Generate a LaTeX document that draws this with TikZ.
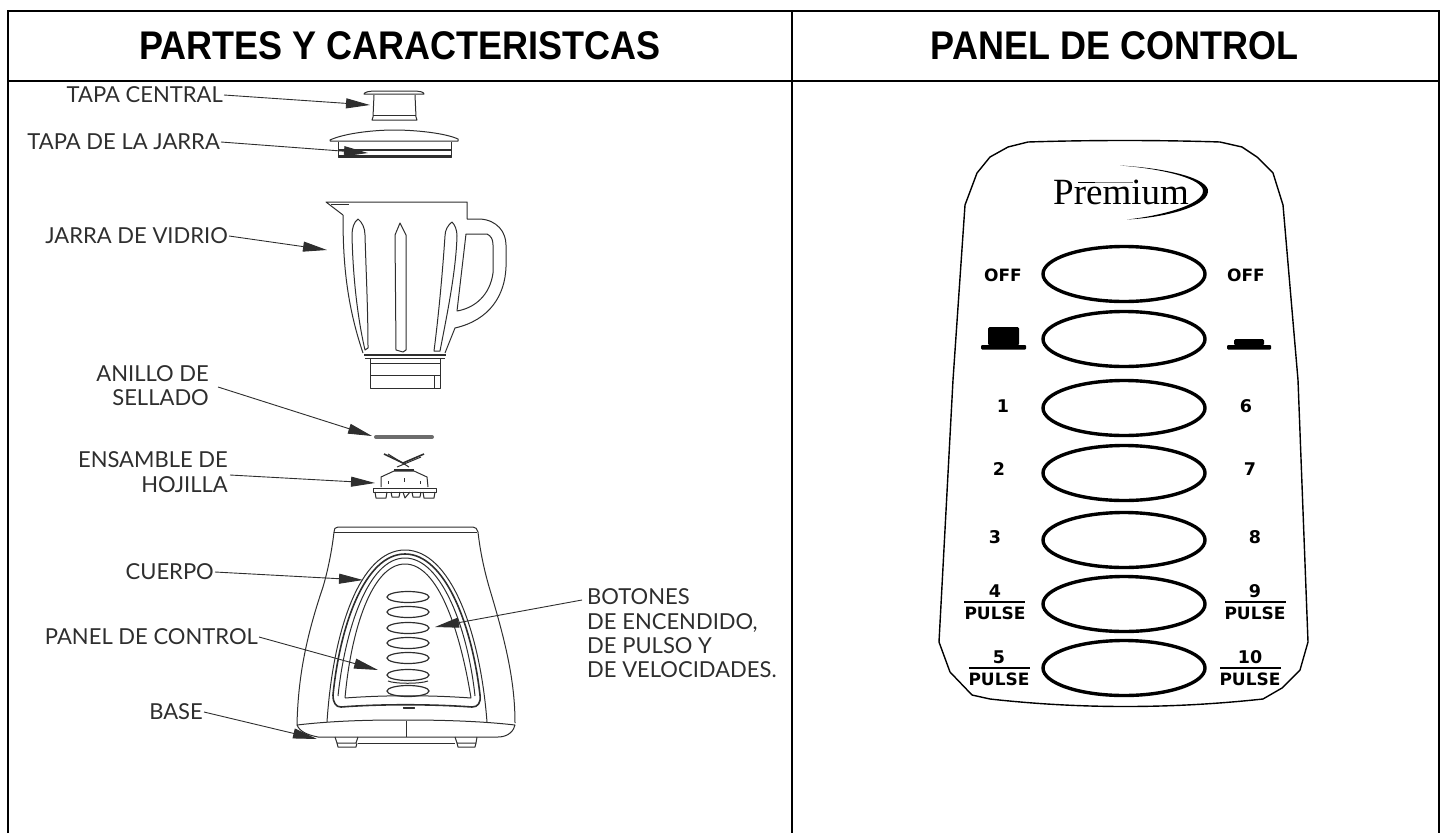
\documentclass[tikz,border=0pt]{standalone}
\usepackage{fontspec}
\setmainfont{Liberation Sans}
\newfontfamily\lblfont{Lato}
\newfontfamily\panfont{DejaVu Sans}
\newfontfamily\premfont{Liberation Serif}
\newfontfamily\headfont[FakeStretch=0.9]{Liberation Sans Bold}
\usetikzlibrary{arrows.meta,shapes.geometric}
\definecolor{ink}{gray}{0.18}
\tikzset{
 frameline/.style={line width=2pt,black},
 headtxt/.style={font=\headfont\fontsize{40}{44}\selectfont,inner sep=0pt,anchor=center},
 lbl/.style={font=\lblfont\fontsize{22}{24}\selectfont,text=ink,inner sep=1pt,align=right},
 lead/.style={line width=0.9pt,ink,-{Triangle[length=24pt,width=10pt]}},
 art/.style={line width=1pt,ink,line join=round},
 artb/.style={line width=1.6pt,ink,line join=round},
 bigoval/.style={draw,ellipse,line width=3.4pt,black,minimum width=162pt,minimum height=55pt,inner sep=0pt},
 smalloval/.style={draw=ink,line width=1.2pt},
 pan/.style={font=\panfont\bfseries\fontsize{17}{19}\selectfont,inner sep=0pt},
 num/.style={font=\panfont\bfseries\fontsize{17.5}{20}\selectfont,inner sep=0pt},
 bar/.style={line width=1.1pt,black}
}
\begin{document}
\begin{tikzpicture}[x=1pt,y=-1pt]
\useasboundingbox (0,0) rectangle (1443,833);
% frame
\draw[frameline] (8,833) -- (8,11) -- (1439,11) -- (1439,833);
\draw[frameline] (8,81) -- (1439,81);
\draw[frameline] (792,11) -- (792,833);
\node[headtxt] (h1) at (400,46) {PARTES Y CARACTERISTCAS};
\node[headtxt] (h2) at (1114.5,46) {PANEL DE CONTROL};

% tapa central
\draw[art] (364,94) .. controls (364,92) and (370,91) .. (376,91) -- (412,91) .. controls (420,91) and (424,92) .. (424,94) -- cycle;
\draw[art] (374,95) -- (373,117) -- (372,120) -- (417,120) -- (416,117) -- (415,95);
\draw[art] (373,115) -- (416,115);
% tapa jarra
\draw[art] (330,140) .. controls (345,133) and (375,130) .. (394,130) .. controls (415,130) and (445,133) .. (458,139) -- (458,141) -- (330,141) -- cycle;
\draw[art] (338,142) -- (338,157) -- (451,157) -- (451,142);
\draw[artb] (338,150) -- (451,150);
\draw[artb] (338,156) -- (451,156);
% jarra
\draw[art] (343,215) -- (326,202) -- (467,202) -- (467,219) -- (480,219)
 .. controls (497,220) and (506,232) .. (506,245) -- (506,267)
 .. controls (505,295) and (490,320) .. (455,328) -- (445,353);
\draw[art] (343,215) .. controls (343,255) and (345,300) .. (363,353);
\draw[art] (331,204) -- (349,204);
\draw[art] (466,234) -- (487,234) .. controls (491,236) and (493,239) .. (493,245) -- (493,273)
 .. controls (490,295) and (475,308) .. (457,311) -- cycle;
\draw[art] (358,219) .. controls (354,222) and (352,228) .. (352,235) .. controls (353,280) and (358,320) .. (365,350) -- (368,348)
 .. controls (368,310) and (366,270) .. (365,235) .. controls (365,228) and (362,222) .. (358,219) -- cycle;
\draw[art] (400,223) -- (395,235) -- (396,350) -- (403,352) -- (406,350) -- (406,235) -- cycle;
\draw[art] (452,222) .. controls (448,225) and (445,230) .. (445,236) .. controls (442,280) and (438,320) .. (434,351) -- (440,351)
 .. controls (448,310) and (456,270) .. (457,236) .. controls (457,230) and (455,225) .. (452,222) -- cycle;
\draw[artb] (364,355) -- (446,355);
\draw[art] (365,358) -- (445,358);
\draw[art] (370,358) -- (370,388) -- (440,388) -- (440,358);
\draw[art] (370,363) -- (440,363);
\draw[art] (371,375) -- (440,375);
\draw[art] (434,375) -- (434,388);
% anillo
\draw[line width=4pt,gray!85!black,line cap=round] (376,437) -- (432,437);
% hojilla
\draw[artb] (384,454) -- (403,463) -- (424,454);
\draw[art] (388,454) -- (409,467);
\draw[art] (421,457) -- (397,467);
\draw[artb] (394,470) -- (414,470);
\draw[art] (381,487) -- (381,477) -- (394,471) -- (414,471) -- (427,477) -- (428,487);
\draw[art] (373,488) rectangle (436,492);
\draw[art] (375,492) -- (376,498) -- (386,498) -- (387,492);
\draw[art] (391,492) -- (392,497) -- (399,497) -- (400,492);
\draw[art] (403,492) -- (405,498) -- (410,492);
\draw[art] (412,492) -- (413,497) -- (420,497) -- (421,492);
\draw[art] (423,492) -- (424,498) -- (434,498) -- (435,492);
\draw[art] (388,481) -- (388,484);
\draw[art] (404,478) -- (404,482);
\draw[art] (420,481) -- (420,484);
% cuerpo
\draw[art] (297,725) .. controls (298,680) and (305,640) .. (323,587) .. controls (328,570) and (332,550) .. (334,532)
 .. controls (334,529) and (335,527) .. (338,527) -- (473,527) .. controls (476,527) and (477,529) .. (478,532)
 .. controls (480,550) and (484,570) .. (490,590) .. controls (505,640) and (515,680) .. (515,723);
\draw[art] (334,532) -- (477,532);
\draw[art] (297,725) .. controls (340,720) and (380,720) .. (406,720) .. controls (440,720) and (480,721) .. (515,725)
 .. controls (514,730) and (509,737) .. (498,737) -- (318,737) .. controls (308,735) and (300,732) .. (297,725);
\draw[art] (406,721) -- (406,737);
\draw[art] (335,737) -- (337,743) -- (356,743) -- (358,737);
\draw[art] (337,743) -- (338,747) -- (356,747) -- (357,743);
\draw[art] (455,737) -- (457,743) -- (476,743) -- (477,737);
\draw[art] (457,743) -- (458,747) -- (475,747) -- (476,743);
\draw[art] (358,743) -- (455,743);
\draw[art] (327,722) .. controls (333,630) and (360,550) .. (405,550) .. controls (450,550) and (480,630) .. (487,722);
\draw[artb] (333,695) .. controls (340,625) and (365,554) .. (405,554) .. controls (445,554) and (472,625) .. (480,695)
 .. controls (481,703) and (478,707) .. (472,707) .. controls (430,704) and (380,704) .. (341,707) .. controls (336,707) and (333,703) .. (333,695) -- cycle;
\draw[art] (338,696) .. controls (345,630) and (368,558) .. (405,558) .. controls (442,558) and (468,630) .. (475,696);
\draw[art] (345,698) .. controls (351,630) and (372,564) .. (405,564) .. controls (438,564) and (460,630) .. (471,698) .. controls (430,695) and (385,695) .. (345,698);
\draw[art] (403,707) rectangle (414,708);
\foreach \yy in {597,612,628,643,658,675,691}{\draw[smalloval] (408,\yy) ellipse [x radius=21,y radius=5.5];}
\draw[art] (388,681) .. controls (395,684) and (420,684) .. (428,681);

% labels
\node[lbl,anchor=east] (ltc) at (224,95) {TAPA CENTRAL};
\node[lbl,anchor=east] (ltj) at (221,142) {TAPA DE LA JARRA};
\node[lbl,anchor=east] (ljv) at (229,236) {JARRA DE VIDRIO};
\node[lbl,anchor=east] (las) at (210,385.5) {ANILLO DE\\[0.3pt]SELLADO};
\node[lbl,anchor=east] (lhj) at (229,472) {ENSAMBLE DE\\[0.3pt]HOJILLA};
\node[lbl,anchor=east] (lcu) at (215,572) {CUERPO};
\node[lbl,anchor=east] (lpc) at (259,637) {PANEL DE CONTROL};
\node[lbl,anchor=east] (lba) at (204,712) {BASE};
\node[lbl,anchor=west,align=left] (lbo) at (586,633.5) {BOTONES\\[0.3pt]DE ENCENDIDO,\\[0.3pt]DE PULSO Y\\[0.3pt]DE VELOCIDADES.};

\coordinate (tc) at (370,105);
\coordinate (tj) at (368,153);
\coordinate (jv) at (327,250);
\coordinate (as) at (372,436);
\coordinate (hj) at (375,483);
\coordinate (cu) at (363,580);
\coordinate (pc) at (378,670);
\coordinate (ba) at (317,739);
\coordinate (bo) at (435,627);
\coordinate (bos) at (582,600);
\coordinate (ass) at (218,387);
\coordinate (hjs) at (230,475);
\draw[lead] (ltc.east) -- (tc);
\draw[lead] (ltj.east) -- (tj);
\draw[lead] (ljv.east) -- (jv);
\draw[lead] (ass) -- (as);
\draw[lead] (hjs) -- (hj);
\draw[lead] (lcu.east) -- (cu);
\draw[lead] (lpc.east) -- (pc);
\draw[lead] (lba.east) -- (ba);
\draw[lead] (bos) -- (bo);

% panel de control
\draw[line width=1.4pt,black,line join=round] (1028,142) .. controls (1090,140) and (1160,140) .. (1220,142)
 -- (1242,147) -- (1257,157) -- (1273,173) -- (1283,205) -- (1298,380) -- (1308,642) -- (1300,670) -- (1282,688) -- (1263,699)
 .. controls (1170,709) and (1080,709) .. (990,699) -- (972,695) -- (950,672) -- (939,642) -- (953,380) -- (965,205) -- (977,173) -- (990,157) -- (1008,147) -- cycle;
\node[font=\premfont\fontsize{37}{40}\selectfont,anchor=base west,inner sep=0pt] (prem) at (1053,204) {Premium};
\fill[black] (1120,165.5) .. controls (1165,168) and (1210,178) .. (1208,192) .. controls (1206,208) and (1160,218) .. (1127,219.5)
 .. controls (1160,216) and (1203,205) .. (1203,191) .. controls (1203,179) and (1165,169) .. (1120,165.5) -- cycle;
\draw[gray,line width=1.5pt] (1095,182.5) -- (1133,182.5);
\draw[black,line width=0.6pt] (1078,182) -- (1095,182);
\foreach \nm/\yy in {a/274,b/339,c/408,d/473,e/540,f/604,g/668}{\node[bigoval] (o\nm) at (1124,\yy) {};}
\node[pan] (off1) at (1003,275) {OFF};
\node[pan] (off2) at (1246,275) {OFF};
\fill[black,rounded corners=1.5pt] (988,345.5) -- (988,327) -- (1019,327) -- (1019,345.5) -- cycle;
\fill[black,rounded corners=1pt] (981,345) rectangle (1026,349.5);
\fill[black,rounded corners=1.5pt] (1234,345.5) -- (1234,339) -- (1264,339) -- (1264,345.5) -- cycle;
\fill[black,rounded corners=1pt] (1227,345) rectangle (1271,349.5);
\node[num] (n1) at (1003,406) {1};
\node[num] (n6) at (1246,406) {6};
\node[num] (n2) at (999,469) {2};
\node[num] (n7) at (1250,469) {7};
\node[num] (n3) at (995,537) {3};
\node[num] (n8) at (1255,537) {8};
\node[num] (n4) at (995,591) {4};
\node[num] (n9) at (1255,591) {9};
\node[num] (n5) at (999,657) {5};
\node[num] (n10) at (1250,657) {10};
\node[pan] (p4) at (995,613.5) {PULSE};
\node[pan] (p9) at (1255,613.5) {PULSE};
\node[pan] (p5) at (999,679.5) {PULSE};
\node[pan] (p10) at (1250,679.5) {PULSE};
\draw[bar] (964,602) -- (1025,602);
\draw[bar] (1225,602) -- (1286,602);
\draw[bar] (969,668) -- (1030,668);
\draw[bar] (1220,668) -- (1281,668);
\end{tikzpicture}
\end{document}
